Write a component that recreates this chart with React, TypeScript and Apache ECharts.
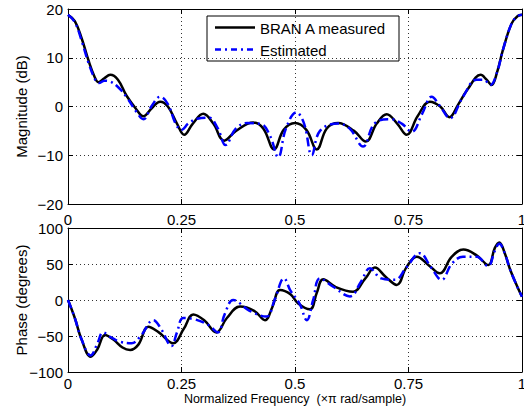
import React, { useEffect, useRef } from "react";
import * as echarts from "echarts";

const xTicks = [0, 0.25, 0.5, 0.75, 1];

const measuredMag: [number, number][] = [
  [0, 18.8], [0.015, 17.5], [0.03, 14], [0.045, 9.5], [0.058, 6.2], [0.067, 5.0], [0.08, 5.8], [0.093, 6.5],
  [0.11, 5.5], [0.129, 2.2], [0.15, -0.5], [0.166, -2.0], [0.185, -0.3], [0.203, 1.0], [0.22, 0.0], [0.24, -3.5],
  [0.256, -5.8], [0.275, -3.5], [0.298, -1.5], [0.32, -3.5], [0.344, -7.0], [0.37, -5.0], [0.408, -3.3],
  [0.43, -4.5], [0.454, -8.8], [0.475, -4.8], [0.5, -3.4], [0.525, -4.8], [0.548, -8.8], [0.57, -4.5],
  [0.595, -3.4], [0.63, -5], [0.656, -7.2], [0.68, -3.5], [0.702, -1.6], [0.725, -3.5], [0.746, -5.8],
  [0.77, -2.0], [0.797, 1.0], [0.82, 0.0], [0.84, -2.2], [0.86, 0.5], [0.88, 3.5], [0.909, 6.5], [0.922, 5.5],
  [0.933, 4.4], [0.945, 7.0], [0.958, 11.6], [0.977, 17.0], [0.99, 18.5], [1.0, 18.8],
];

const estimatedMag: [number, number][] = [
  [0, 18.8], [0.015, 17.3], [0.03, 13.5], [0.045, 9], [0.06, 5.5], [0.068, 4.8], [0.08, 5.3], [0.09, 5.2],
  [0.11, 4.0], [0.13, 1.8], [0.15, -1], [0.166, -2.6], [0.185, 0.2], [0.203, 2.0], [0.22, 0.5], [0.237, -3.5],
  [0.25, -4.8], [0.265, -3.5], [0.285, -2.5], [0.31, -2.3], [0.33, -4.5], [0.347, -7.9], [0.37, -4.5],
  [0.395, -3.4], [0.425, -3.6], [0.445, -6], [0.463, -10.4], [0.48, -4.5], [0.503, -1.2], [0.52, -3.5],
  [0.537, -10], [0.555, -5], [0.595, -3.5], [0.62, -4.5], [0.65, -8.2], [0.675, -3.5], [0.71, -2.6],
  [0.735, -3.5], [0.757, -5.2], [0.78, -1.5], [0.801, 2.0], [0.82, 0], [0.841, -2.4], [0.87, 2], [0.9, 5.5],
  [0.915, 5.5], [0.93, 4.4], [0.945, 7], [0.958, 11.6], [0.977, 17.0], [0.99, 18.5], [1.0, 18.8],
];

const measuredPhase: [number, number][] = [
  [0, 0], [0.015, -25], [0.03, -55], [0.05, -78.7], [0.065, -68], [0.0815, -48.6], [0.1, -55], [0.12, -66],
  [0.137, -69.4], [0.155, -62], [0.177, -37], [0.2, -45], [0.232, -60], [0.255, -40], [0.276, -20], [0.3, -28],
  [0.327, -45], [0.35, -25], [0.379, -9], [0.41, -15], [0.434, -28], [0.45, -10], [0.467, 14], [0.49, 8],
  [0.507, -5], [0.533, -13], [0.548, 10], [0.562, 28.7], [0.59, 18], [0.628, 11.6], [0.655, 30], [0.676, 45],
  [0.7, 32], [0.724, 21], [0.745, 45], [0.768, 60], [0.795, 48], [0.819, 37], [0.845, 60], [0.871, 70],
  [0.9, 62], [0.926, 48.6], [0.94, 72], [0.95, 80], [0.962, 65], [0.974, 42], [0.99, 18], [1.0, 4.6],
];

const estimatedPhase: [number, number][] = [
  [0, 0], [0.015, -25], [0.03, -55], [0.05, -77], [0.065, -60], [0.077, -45], [0.095, -52], [0.115, -58],
  [0.14, -60], [0.16, -50], [0.188, -28], [0.205, -40], [0.228, -64], [0.24, -45], [0.254, -25], [0.28, -27],
  [0.31, -35], [0.33, -45], [0.345, -20], [0.364, 0], [0.4, -15], [0.437, -23], [0.455, 0], [0.476, 30],
  [0.49, 13], [0.51, -5], [0.526, -28], [0.54, 0], [0.555, 30], [0.585, 18], [0.621, 5], [0.645, 25],
  [0.665, 44], [0.69, 30], [0.72, 28], [0.745, 45], [0.775, 65], [0.8, 45], [0.823, 28], [0.845, 50],
  [0.87, 60], [0.9, 60], [0.925, 47], [0.94, 68], [0.95, 78], [0.962, 65], [0.974, 42], [0.99, 18], [1.0, 4.6],
];

const seriesNames = ["BRAN A measured", "Estimated"];
const FONT = "'Liberation Sans', Arial, Helvetica, sans-serif";
const BLUE = "#0000ff";
const DASH_DOT = [9, 4, 2, 4];

const minus = (v: number) => String(v).replace("-", "\u2212");

export default function App() {
  const ref = useRef<HTMLDivElement>(null);
  useEffect(() => {
    if (!ref.current) return;
    const chart = echarts.init(ref.current, undefined, { renderer: "svg" });
    const grids = [
      { left: 68, top: 9, width: 454, height: 195, containLabel: false, outerBoundsMode: "none" },
      { left: 68, top: 228, width: 454, height: 144, containLabel: false, outerBoundsMode: "none" },
    ];
    const gridLine = { show: true, lineStyle: { color: "#333", type: [1, 3], width: 1 } };
    const mainX = (gi: number, margin: number, name?: string) => ({
      type: "value", gridIndex: gi, min: 0, max: 1, interval: 0.25, position: "bottom",
      axisLine: { show: true, onZero: false, lineStyle: { color: "#000", width: 1 } },
      axisTick: { show: true, inside: true, length: 5, lineStyle: { color: "#000" } },
      axisLabel: { color: "#000", fontSize: 15, fontFamily: FONT, margin, formatter: (v: number) => minus(v) },
      splitLine: gridLine,
      name: name || "", nameLocation: "middle", nameGap: 20, nameMoveOverlap: false,
      nameTextStyle: { color: "#000", fontSize: 12.5, fontFamily: FONT },
    });
    const topX = (gi: number) => ({
      type: "value", gridIndex: gi, min: 0, max: 1, interval: 0.25, position: "top",
      axisLine: { show: true, onZero: false, lineStyle: { color: "#000", width: 1 } },
      axisTick: { show: true, inside: true, length: 5, lineStyle: { color: "#000" } },
      axisLabel: { show: false }, splitLine: { show: false },
    });
    const mainY = (gi: number, min: number, max: number, interval: number, name: string) => ({
      type: "value", gridIndex: gi, min, max, interval, position: "left",
      axisLine: { show: true, onZero: false, lineStyle: { color: "#000", width: 1 } },
      axisTick: { show: true, inside: true, length: 5, lineStyle: { color: "#000" } },
      axisLabel: { color: "#000", fontSize: 15, fontFamily: FONT, margin: 5, formatter: (v: number) => minus(v) },
      splitLine: gridLine,
      name, nameLocation: "middle", nameGap: 39, nameMoveOverlap: false,
      nameTextStyle: { color: "#000", fontSize: 15, fontFamily: FONT },
    });
    const rightY = (gi: number, min: number, max: number, interval: number) => ({
      type: "value", gridIndex: gi, min, max, interval, position: "right",
      axisLine: { show: true, onZero: false, lineStyle: { color: "#000", width: 1 } },
      axisTick: { show: true, inside: true, length: 5, lineStyle: { color: "#000" } },
      axisLabel: { show: false }, splitLine: { show: false },
    });
    const line = (name: string, data: [number, number][], xi: number, yi: number, blue: boolean) => ({
      type: "line", name, data, xAxisIndex: xi, yAxisIndex: yi, smooth: 0.4, showSymbol: false, symbol: "none",
      lineStyle: blue ? { color: BLUE, width: 2.5, type: DASH_DOT } : { color: "#000", width: 2.5 },
      z: blue ? 3 : 2,
    });
    chart.setOption({
      animation: false,
      backgroundColor: "#fff",
      grid: grids,
      xAxis: [mainX(0, 8), mainX(1, 4, "Normalized Frequency  (\u00d7\u03c0 rad/sample)"), topX(0), topX(1)],
      yAxis: [
        mainY(0, -20, 20, 10, "Magnitude (dB)"),
        mainY(1, -100, 100, 50, "Phase (degrees)"),
        rightY(0, -20, 20, 10),
        rightY(1, -100, 100, 50),
      ],
      series: [
        line(seriesNames[0], measuredMag, 0, 0, false),
        line(seriesNames[1], estimatedMag, 0, 0, true),
        line(seriesNames[0], measuredPhase, 1, 1, false),
        line(seriesNames[1], estimatedPhase, 1, 1, true),
      ],
      graphic: [
        {
          type: "group", z: 100, children: [
            { type: "rect", shape: { x: 207, y: 16, width: 192, height: 45 }, style: { fill: "#fff", stroke: "#000", lineWidth: 1 } },
            { type: "line", shape: { x1: 215, y1: 27.5, x2: 255, y2: 27.5 }, style: { stroke: "#000", lineWidth: 2.5 } },
            { type: "line", shape: { x1: 215, y1: 49.5, x2: 255, y2: 49.5 }, style: { stroke: BLUE, lineWidth: 2.5, lineDash: [6, 4, 2, 4] } },
            { type: "text", x: 260, y: 28, style: { text: seriesNames[0], fill: "#000", font: `15px ${FONT}`, verticalAlign: "middle" } },
            { type: "text", x: 260, y: 50, style: { text: seriesNames[1], fill: "#000", font: `15px ${FONT}`, verticalAlign: "middle" } },
          ],
        },
      ],
    });
    return () => chart.dispose();
  }, []);
  return <div ref={ref} style={{ position: "fixed", left: 0, top: 0, width: 524, height: 410 }} />;
}
